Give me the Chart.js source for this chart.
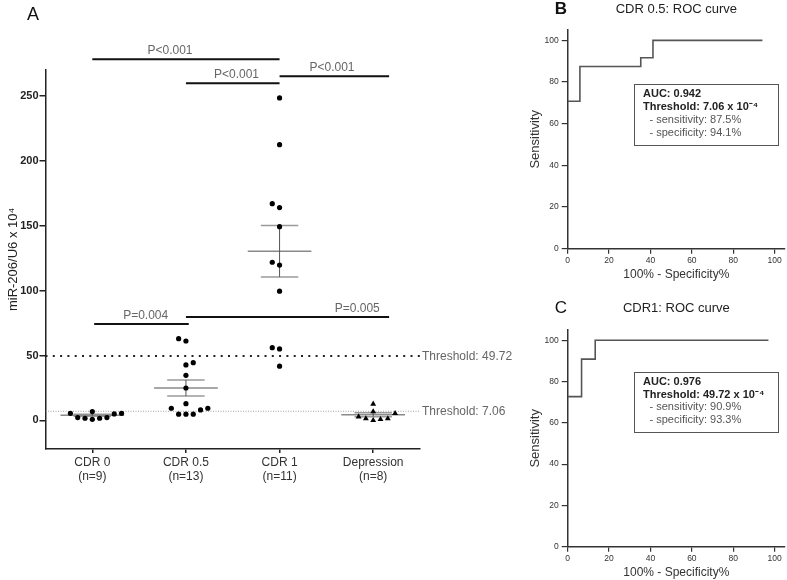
<!DOCTYPE html>
<html>
<head>
<meta charset="utf-8">
<script src="https://cdn.jsdelivr.net/npm/chart.js@4.4.1/dist/chart.umd.min.js"></script>
<style>
  body { margin: 0; background: #fff; overflow: hidden; }
  .panel { position: absolute; }
</style>
</head>
<body>
<div class="panel" style="left:0;top:0"><canvas id="chartA" width="530" height="500"></canvas></div>
<div class="panel" style="left:520px;top:0"><canvas id="chartB" width="267" height="286"></canvas></div>
<div class="panel" style="left:520px;top:290px"><canvas id="chartC" width="267" height="294"></canvas></div>
<script>
// ---- panel A data ----
const groups = ["CDR 0", "CDR 0.5", "CDR 1", "Depression"];
const groupSizes = ["(n=9)", "(n=13)", "(n=11)", "(n=8)"];

// values (x 10^4) and horizontal spread of the dots, in dot steps
const cdr0Values = [5.5, 2.2, 1.7, 6.8, 0.9, 1.7, 2.2, 5.0, 5.5];
const cdr0Spread = [-3, -2, -1, 0, 0, 1, 2, 3, 4];
const cdr05Values = [63.0, 61.2, 44.5, 42.8, 34.8, 25.0, 12.9, 9.4, 4.8, 4.8, 4.8, 8.1, 9.4];
const cdr05Spread = [-1, 0, 1, 0, 0, 0, 0, -2, -1, 0, 1, 2, 3];
const cdr1Values = [248.5, 212.5, 167, 164, 149.3, 121.9, 119.7, 99.6, 56.1, 55.1, 41.8];
const cdr1Spread = [0, 0, -1, 0, 0, -1, 0, 0, -1, 0, 0];
const depValues = [12.7, 6.8, 2.9, 1.4, 0.1, 0.9, 1.4, 5.5];
const depSpread = [0, 0, -2, -1, 0, 1, 2, 3];

const groupMeans = [4.0, 25.0, 130.4, 4.4];
const groupSem = [0.8, 6.2, 19.8, 1.6];

const thresholdValues = [49.72, 7.06];
const thresholdLabels = ["Threshold: 49.72", "Threshold: 7.06"];

const sigLabels = ["P<0.001", "P<0.001", "P<0.001", "P=0.004", "P=0.005"];
const sigFrom = [0, 1, 2, 0.02, 1];
const sigTo = [2, 2, 3.17, 1.03, 3.17];
const sigHeight = [278.3, 259.8, 265.2, 74.3, 79.7];
const sigLabelX = [0.83, 1.54, 2.56, 0.57, 2.83];

const yTicksA = [0, 50, 100, 150, 200, 250];

// ---- panels B and C data ----
const rocBFpr = [0, 5.9, 35.3, 41.2, 94.1];
const rocBTpr = [70.8, 87.5, 91.7, 100, 100];
const rocBStats = ["AUC: 0.942", "Threshold: 7.06 x 10⁻⁴", "- sensitivity: 87.5%", "- specificity: 94.1%"];

const rocCFpr = [0, 6.7, 13.3, 97];
const rocCTpr = [72.7, 90.9, 100, 100];
const rocCStats = ["AUC: 0.976", "Threshold: 49.72 x 10⁻⁴", "- sensitivity: 90.9%", "- specificity: 93.3%"];

const rocTicks = [0, 20, 40, 60, 80, 100];

Chart.defaults.font.family = "'Liberation Sans', Arial, sans-serif";
Chart.defaults.animation = false;

const dotStep = 0.078;
const meanHalf = 0.34;
const capHalf = 0.2;

function dots(values, spread, idx) {
  return values.map((v, k) => ({ x: idx + spread[k] * dotStep, y: v }));
}

// mean lines, caps and whiskers, split by gaps
const meanPts = [], capPts = [], whiskerPts = [];
groupMeans.forEach((m, i) => {
  const s = groupSem[i];
  meanPts.push({ x: i - meanHalf, y: m }, { x: i + meanHalf, y: m }, { x: i, y: null });
  capPts.push({ x: i - capHalf, y: m + s }, { x: i + capHalf, y: m + s }, { x: i, y: null });
  capPts.push({ x: i - capHalf, y: m - s }, { x: i + capHalf, y: m - s }, { x: i, y: null });
  whiskerPts.push({ x: i, y: m - s }, { x: i, y: m + s }, { x: i, y: null });
});

const sigPts = [];
sigLabels.forEach((_, i) => {
  sigPts.push({ x: sigFrom[i], y: sigHeight[i] }, { x: sigTo[i], y: sigHeight[i] }, { x: sigTo[i], y: null });
});

function dotSet(data, style, radius) {
  return {
    data: data, pointStyle: style, pointRadius: radius,
    backgroundColor: "#000", borderColor: "#000", borderWidth: 0,
  };
}

function lineSet(data, color, width, dash, clip) {
  return {
    data: data, showLine: true, pointRadius: 0, borderColor: color,
    borderWidth: width, borderDash: dash || [], spanGaps: false,
    clip: clip === false ? false : undefined,
  };
}

// text on panel A: letter, p-values, threshold labels
const panelALabels = {
  id: "panelALabels",
  afterDraw(chart) {
    const ctx = chart.ctx;
    const xs = chart.scales.x, ys = chart.scales.y;
    ctx.save();
    ctx.fillStyle = "#111";
    ctx.font = "18px 'Liberation Sans', Arial, sans-serif";
    ctx.textAlign = "center";
    ctx.textBaseline = "middle";
    ctx.fillText("A", 33, 15);

    ctx.fillStyle = "#666";
    ctx.font = "12px 'Liberation Sans', Arial, sans-serif";
    sigLabels.forEach((t, i) => {
      ctx.fillText(t, xs.getPixelForValue(sigLabelX[i]), ys.getPixelForValue(sigHeight[i]) - 8.5);
    });
    ctx.textAlign = "left";
    thresholdLabels.forEach((t, i) => {
      ctx.fillText(t, chart.chartArea.right + 2, ys.getPixelForValue(thresholdValues[i]) + 0.5);
    });
    ctx.restore();
  },
};

const axisColor = "#222";

new Chart(document.getElementById("chartA"), {
  type: "scatter",
  data: {
    datasets: [
      dotSet(dots(cdr0Values, cdr0Spread, 0), "circle", 2.6),
      dotSet(dots(cdr05Values, cdr05Spread, 1), "circle", 2.6),
      dotSet(dots(cdr1Values, cdr1Spread, 2), "circle", 2.6),
      dotSet(dots(depValues, depSpread, 3), "triangle", 3.4),
      lineSet(whiskerPts, "#555", 1),
      lineSet(meanPts, "#8a8a8a", 1.5),
      lineSet(capPts, "#9a9a9a", 1.5),
      lineSet([{ x: -0.5, y: thresholdValues[0] }, { x: 3.5, y: thresholdValues[0] }], "#222", 2, [2, 5.3]),
      lineSet([{ x: -0.5, y: thresholdValues[1] }, { x: 3.5, y: thresholdValues[1] }], "#a0a0a0", 1, [1, 1.5]),
      lineSet(sigPts, "#111", 2, [], false),
    ],
  },
  options: {
    responsive: false,
    layout: { padding: { left: 0, top: 70, right: 110, bottom: 0 } },
    plugins: { legend: { display: false }, tooltip: { enabled: false } },
    scales: {
      x: {
        type: "linear", min: -0.5, max: 3.5,
        afterBuildTicks: (s) => { s.ticks = groups.map((g, i) => ({ value: i })); },
        afterFit: (s) => { s.height = 51; },
        ticks: {
          callback: (v, i) => [groups[i], groupSizes[i]],
          color: "#333", font: { size: 12 }, padding: 2, maxRotation: 0, autoSkip: false,
        },
        grid: { drawOnChartArea: false, tickLength: 4, color: axisColor, lineWidth: 1.5 },
        border: { color: axisColor, width: 1.5 },
      },
      y: {
        min: -22, max: 270,
        afterBuildTicks: (s) => { s.ticks = yTicksA.map((v) => ({ value: v })); },
        afterFit: (s) => { s.width = 45.5; },
        title: {
          display: true, text: "miR-206/U6 x 10⁴", color: "#222",
          font: { size: 13 }, padding: { top: 6, bottom: 0 },
        },
        ticks: { color: "#222", font: { size: 11, weight: "bold" }, padding: 1 },
        grid: { drawOnChartArea: false, tickLength: 6, color: axisColor, lineWidth: 1.5 },
        border: { color: axisColor, width: 1.5 },
      },
    },
  },
  plugins: [panelALabels],
});

// ---- ROC panels ----
function rocLabels(letter, letterBold, title, stats, box) {
  return {
    id: "rocLabels" + letter,
    afterDraw(chart) {
      const ctx = chart.ctx;
      const xs = chart.scales.x, ys = chart.scales.y;
      const area = chart.chartArea;
      ctx.save();
      ctx.textBaseline = "middle";
      ctx.textAlign = "center";
      ctx.fillStyle = "#111";
      ctx.font = (letterBold ? "bold " : "") + "17px 'Liberation Sans', Arial, sans-serif";
      ctx.fillText(letter, 41, box.titleY);
      ctx.fillStyle = "#222";
      ctx.font = "13px 'Liberation Sans', Arial, sans-serif";
      ctx.fillText(title, (area.left + area.right) / 2, box.titleY);

      const x0 = xs.getPixelForValue(box.x0), x1 = xs.getPixelForValue(box.x1);
      const y0 = ys.getPixelForValue(box.y0), y1 = ys.getPixelForValue(box.y1);
      ctx.fillStyle = "#fff";
      ctx.fillRect(x0, y0, x1 - x0, y1 - y0);
      ctx.strokeStyle = "#555";
      ctx.lineWidth = 1;
      ctx.strokeRect(Math.round(x0) + 0.5, Math.round(y0) + 0.5, Math.round(x1 - x0), Math.round(y1 - y0));

      ctx.textAlign = "left";
      stats.forEach((t, i) => {
        const bold = i < 2;
        ctx.fillStyle = bold ? "#222" : "#555";
        ctx.font = (bold ? "bold " : "") + "11px 'Liberation Sans', Arial, sans-serif";
        ctx.fillText(t, x0 + (bold ? 9.5 : 16), y0 + 10 + i * 12.8);
      });
      ctx.restore();
    },
  };
}

function rocChart(id, fpr, tpr, plugin, topPad) {
  new Chart(document.getElementById(id), {
    type: "scatter",
    data: {
      datasets: [{
        data: fpr.map((x, i) => ({ x: x, y: tpr[i] })),
        showLine: true, stepped: true, pointRadius: 0,
        borderColor: "#555", borderWidth: 1.6,
      }],
    },
    options: {
      responsive: false,
      layout: { padding: { left: 0, top: topPad, right: 2, bottom: 0 } },
      plugins: { legend: { display: false }, tooltip: { enabled: false } },
      scales: {
        x: {
          min: 0, max: 105,
          afterBuildTicks: (s) => { s.ticks = rocTicks.map((v) => ({ value: v })); },
          afterFit: (s) => { s.height = 37.3; },
          title: {
            display: true, text: "100% - Specificity%", color: "#333",
            font: { size: 12 }, padding: { top: 0, bottom: 4 },
          },
          ticks: { color: "#333", font: { size: 8.5 }, padding: 2, maxRotation: 0 },
          grid: { drawOnChartArea: false, tickLength: 5, color: "#333", lineWidth: 1.2 },
          border: { color: "#333", width: 1.5 },
        },
        y: {
          min: 0, max: 105,
          afterBuildTicks: (s) => { s.ticks = rocTicks.map((v) => ({ value: v })); },
          afterFit: (s) => { s.width = 47.7; },
          title: {
            display: true, text: "Sensitivity", color: "#333",
            font: { size: 13 }, padding: { top: 7.5, bottom: 0 },
          },
          ticks: { color: "#333", font: { size: 8.5 }, padding: 3 },
          grid: { drawOnChartArea: false, tickLength: 6, color: "#333", lineWidth: 1.2 },
          border: { color: "#333", width: 1.5 },
        },
      },
    },
    plugins: [plugin],
  });
}

rocChart("chartB", rocBFpr, rocBTpr,
  rocLabels("B", true, "CDR 0.5: ROC curve", rocBStats, { x0: 31.8, x1: 101.5, y0: 78.9, y1: 49.8, titleY: 9.5 }), 30);
rocChart("chartC", rocCFpr, rocCTpr,
  rocLabels("C", false, "CDR1: ROC curve", rocCStats, { x0: 31.8, x1: 101.2, y0: 84.8, y1: 55.5, titleY: 18 }), 40);
</script>
</body>
</html>
